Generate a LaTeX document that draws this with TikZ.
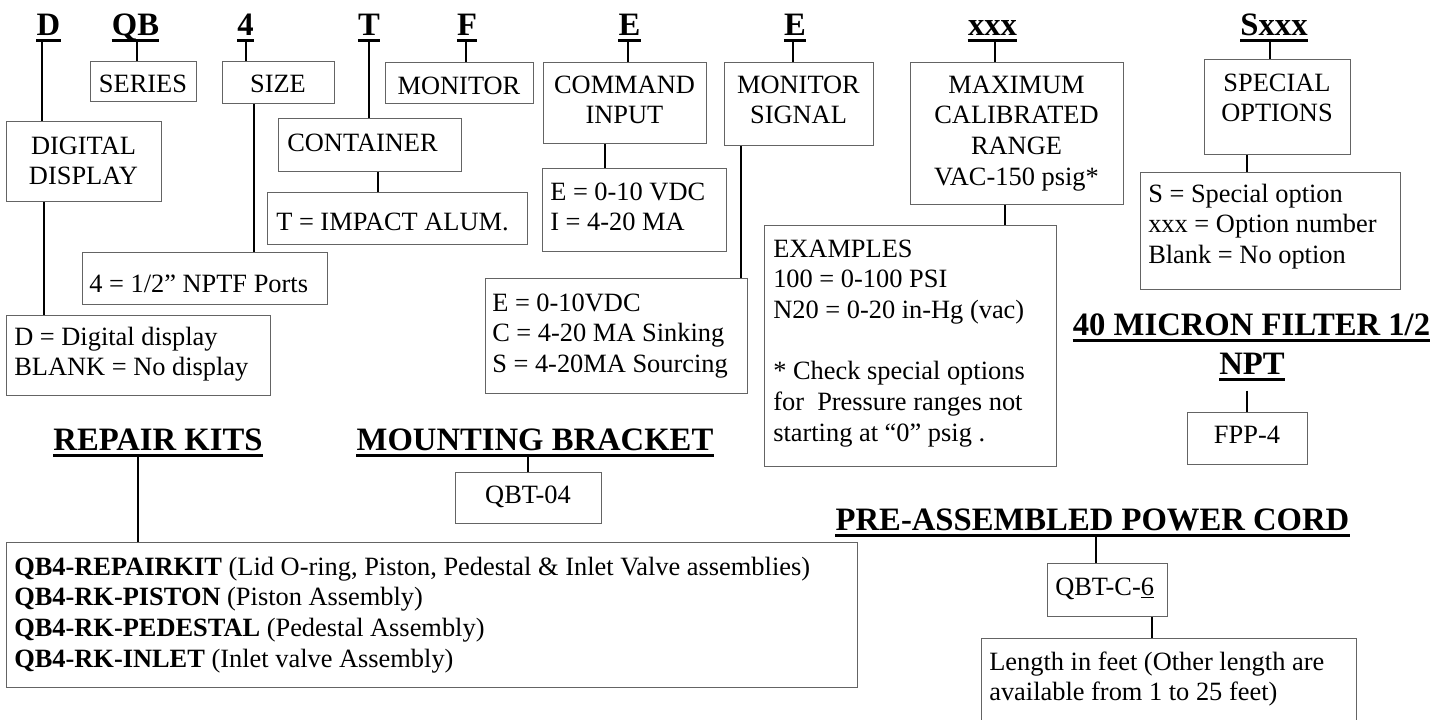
\documentclass[tikz,border=0pt]{standalone}
\usepackage{fontspec}
\setmainfont{Liberation Serif}
\usetikzlibrary{calc}
\definecolor{boxgray}{RGB}{100,100,100}
\newcommand\bodyfont{\fontsize{19.8pt}{23pt}\selectfont}
\newcommand\ttlfont{\fontsize{24.5pt}{28pt}\selectfont\bfseries}
\newcommand\CL[1]{\vtop{\baselineskip=23pt\halign{\hfil##\hfil\cr#1\crcr}}}
\newcommand\LLn[1]{\vtop{\baselineskip=23pt\halign{##\hfil\cr#1\crcr}}}
\newcommand\mkbox[5]{\node[bx, minimum width={(#4-#2)*0.75pt}, minimum height={(#5-#3)*0.75pt}] (#1) at (#2,#3) {};}
\newcommand\ttl[4]{%
  \node[ttl] (#1) at (#2,#3) {#4};
  \draw[ul] ([yshift=-4.3pt]#1.base west) -- ([yshift=-4.3pt]#1.base east);
  \coordinate (u#1) at ([yshift=-4.3pt]#1.base);}
\begin{document}
\begin{tikzpicture}[x=0.75pt,y=-0.75pt,
  bx/.style={draw=boxgray, line width=0.8pt, inner sep=0pt, anchor=north west},
  txt/.style={inner sep=0pt, font=\bodyfont},
  ctxt/.style={txt, anchor=base},
  ltxt/.style={txt, anchor=base west},
  ttl/.style={inner sep=0pt, font=\ttlfont, anchor=base},
  ul/.style={line width=2.5pt},
  conn/.style={line width=1.5pt}]
\path[use as bounding box, fill=white] (0,0) rectangle (1445,719);
\clip (0,0) rectangle (1445,719);

% top code letters
\ttl{tD}{48.5}{35}{D}
\ttl{tQB}{135.5}{35}{QB}
\ttl{tFour}{245.5}{35}{4}
\ttl{tT}{369}{35}{T}
\ttl{tF}{467}{35}{F}
\ttl{tEa}{629.5}{35}{E}
\ttl{tEb}{795}{35}{E}
\ttl{tX}{992.5}{35}{xxx}
\ttl{tS}{1274}{35}{Sxxx}

% other titles
\ttl{tRep}{158}{450}{REPAIR KITS}
\ttl{tMB}{535}{450}{MOUNTING BRACKET}
\ttl{tMic}{1251.5}{335}{40 MICRON FILTER 1/2}
\ttl{tNPT}{1252}{374}{NPT}
\ttl{tPC}{1092.5}{530}{PRE-ASSEMBLED POWER CORD}

% boxes
\mkbox{bSeries}{90}{61}{196}{101}
\mkbox{bSize}{222}{61}{334}{103}
\mkbox{bMon}{385}{62}{533}{103}
\mkbox{bCmd}{543}{62}{706}{143}
\mkbox{bSig}{724}{62}{873}{145}
\mkbox{bMax}{910}{62}{1123}{204}
\mkbox{bSpec}{1204}{59}{1350}{154}
\mkbox{bDig}{6}{121}{161}{201}
\mkbox{bCont}{278}{118}{461}{171}
\mkbox{bImp}{267}{192}{527}{244}
\mkbox{bCmdV}{542}{168}{726}{251}
\mkbox{bPorts}{82}{252}{327}{304}
\mkbox{bDisp}{6}{315}{270}{395}
\mkbox{bSigV}{485}{278}{747}{393}
\mkbox{bEx}{764}{225}{1056}{466}
\mkbox{bSpecV}{1140}{172}{1400}{289}
\mkbox{bFPP}{1187}{412}{1307}{464}
\mkbox{bQBT}{455}{472}{601}{523}
\mkbox{bRep}{6}{542}{857}{687}
\mkbox{bQBTC}{1047}{563}{1167}{616}
\mkbox{bLen}{981}{638}{1356}{760}

% box texts
\node[ctxt] (xSeries) at (143,92) {SERIES};
\node[ctxt] (xSize) at (278,92) {SIZE};
\node[ctxt] (xMon) at (459,94) {MONITOR};
\node[ctxt] (xCmd) at (624.5,93) {\CL{COMMAND\cr INPUT}};
\node[ctxt] (xSig) at (798.5,93) {\CL{MONITOR\cr SIGNAL}};
\node[ctxt] (xMax) at (1016.5,93) {\CL{MAXIMUM\cr CALIBRATED\cr RANGE\cr VAC-150 psig*}};
\node[ctxt] (xSpec) at (1277,91) {\CL{SPECIAL\cr OPTIONS}};
\node[ctxt] (xDig) at (83.5,154) {\CL{DIGITAL\cr DISPLAY}};
\node[ltxt] (xCont) at (287,151) {CONTAINER};
\node[ltxt] (xImp) at (276,230) {T = IMPACT ALUM.};
\node[ltxt] (xCmdV) at (550,200) {\LLn{E = 0-10 VDC\cr I = 4-20 MA}};
\node[ltxt] (xPorts) at (89,292) {4 = 1/2” NPTF Ports};
\node[ltxt] (xDisp) at (14,345) {\LLn{D = Digital display\cr BLANK = No display}};
\node[ltxt] (xSigV) at (492,311) {\LLn{E = 0-10VDC\cr C = 4-20 MA Sinking\cr S = 4-20MA Sourcing}};
\node[ltxt] (xEx) at (773,257) {\LLn{EXAMPLES\cr 100 = 0-100 PSI\cr N20 = 0-20 in-Hg (vac)\cr \cr * Check special options\cr for\ \ Pressure ranges not\cr starting at “0” psig .}};
\node[ltxt] (xSpecV) at (1148,202) {\LLn{S = Special option\cr xxx = Option number\cr Blank = No option}};
\node[ctxt] (xFPP) at (1247,443) {FPP-4};
\node[ctxt] (xQBT) at (528,503) {QBT-04};
\node[ltxt] (xRep) at (14,575) {\LLn{\textbf{QB4-REPAIRKIT} (Lid O-ring, Piston, Pedestal \& Inlet Valve assemblies)\cr \textbf{QB4-RK-PISTON} (Piston Assembly)\cr \textbf{QB4-RK-PEDESTAL} (Pedestal Assembly)\cr \textbf{QB4-RK-INLET} (Inlet valve Assembly)}};
\node[ltxt] (xQBTC) at (1055,595) {QBT-C-\underline{6}};
\node[ltxt] (xLen) at (989,670) {\LLn{Length in feet (Other length are\cr available from 1 to 25 feet)}};

% connector x positions
\coordinate (kD) at (42,0);
\coordinate (kDig) at (44,0);
\coordinate (kQB) at (137,0);
\coordinate (kFour) at (246,0);
\coordinate (kSize) at (254,0);
\coordinate (kT) at (369,0);
\coordinate (kCont) at (378,0);
\coordinate (kF) at (466,0);
\coordinate (kEa) at (628,0);
\coordinate (kCmd) at (605,0);
\coordinate (kEb) at (793,0);
\coordinate (kSig) at (741,0);
\coordinate (kX) at (995,0);
\coordinate (kMax) at (1005,0);
\coordinate (kS) at (1270,0);
\coordinate (kSpec) at (1247,0);
\coordinate (kNPT) at (1247,0);
\coordinate (kRep) at (138,0);
\coordinate (kMB) at (528,0);
\coordinate (kPC) at (1096,0);
\coordinate (kQ) at (1152,0);
\coordinate (sNPT) at ($(utNPT)+(0,11)$);

% connectors
\draw[conn] (utD -| kD) -- (bDig.north -| kD);
\draw[conn] (bDig.south -| kDig) -- (bDisp.north -| kDig);
\draw[conn] (utQB -| kQB) -- (bSeries.north -| kQB);
\draw[conn] (utFour -| kFour) -- (bSize.north -| kFour);
\draw[conn] (bSize.south -| kSize) -- (bPorts.north -| kSize);
\draw[conn] (utT -| kT) -- (bCont.north -| kT);
\draw[conn] (bCont.south -| kCont) -- (bImp.north -| kCont);
\draw[conn] (utF -| kF) -- (bMon.north -| kF);
\draw[conn] (utEa -| kEa) -- (bCmd.north -| kEa);
\draw[conn] (bCmd.south -| kCmd) -- (bCmdV.north -| kCmd);
\draw[conn] (utEb -| kEb) -- (bSig.north -| kEb);
\draw[conn] (bSig.south -| kSig) -- (bSigV.north -| kSig);
\draw[conn] (utX -| kX) -- (bMax.north -| kX);
\draw[conn] (bMax.south -| kMax) -- (bEx.north -| kMax);
\draw[conn] (utS -| kS) -- (bSpec.north -| kS);
\draw[conn] (bSpec.south -| kSpec) -- (bSpecV.north -| kSpec);
\draw[conn] (sNPT -| kNPT) -- (bFPP.north -| kNPT);
\draw[conn] (utRep -| kRep) -- (bRep.north -| kRep);
\draw[conn] (utMB -| kMB) -- (bQBT.north -| kMB);
\draw[conn] (utPC -| kPC) -- (bQBTC.north -| kPC);
\draw[conn] (bQBTC.south -| kQ) -- (bLen.north -| kQ);
\end{tikzpicture}
\end{document}
